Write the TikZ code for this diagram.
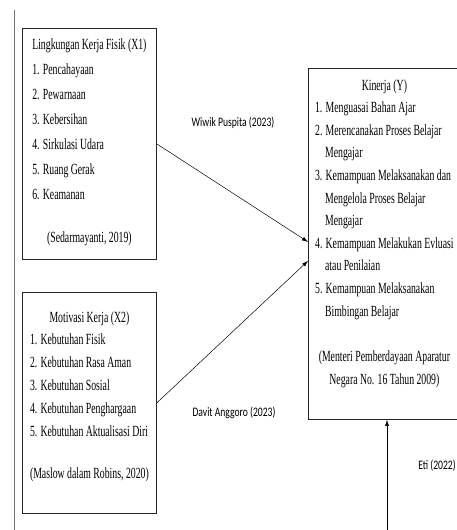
\documentclass[tikz,border=0pt]{standalone}
\usepackage{fontspec}
\setmainfont{Liberation Serif}
\newfontfamily\boxfont[FakeStretch=0.63]{Liberation Serif}
\newfontfamily\citefont[FakeStretch=0.74]{Carlito}
\usepackage{tikz}
\usetikzlibrary{positioning,arrows.meta}

\begin{document}
\begin{tikzpicture}[x=1pt, y=-1pt,
    every node/.style={inner sep=0pt},
    varbox/.style={draw=black!85, line width=0.8pt, anchor=north west},
    itemlist/.style={font=\boxfont\fontsize{15.5}{17}\selectfont, anchor=north},
    source/.style={font=\citefont\fontsize{13}{15}\selectfont},
    arrow/.style={-{Latex[length=6pt,width=4pt]}, line width=0.5pt},
]
\useasboundingbox (0,0) rectangle (457,530);
\clip (0,0) rectangle (457,530);

% left margin rule
\draw[black!55, line width=0.8pt] (14,10) -- (14,530);

% variable boxes
\node[varbox, minimum width=134pt, minimum height=231pt] (fisik) at (22,28) {};
\node[varbox, minimum width=134pt, minimum height=221pt] (motivasi) at (22,292) {};
\node[varbox, minimum width=156pt, minimum height=351pt] (kinerja) at (308,68) {};

\node[itemlist, below=4pt of fisik.north] (fisiklist) {\renewcommand{\arraystretch}{1.47}%
\begin{tabular}{@{}l@{}}
\multicolumn{1}{@{}c@{}}{Lingkungan Kerja Fisik (X1)}\\
1. Pencahayaan\\
2. Pewarnaan\\
3. Kebersihan\\
4. Sirkulasi Udara\\
5. Ruang Gerak\\
6. Keamanan\\[18pt]
\multicolumn{1}{@{}c@{}}{(Sedarmayanti, 2019)}
\end{tabular}};

\node[itemlist, below=14pt of motivasi.north] (motivasilist) {\renewcommand{\arraystretch}{1.34}%
\begin{tabular}{@{}l@{}}
\multicolumn{1}{@{}c@{}}{Motivasi Kerja (X2)}\\
1. Kebutuhan Fisik\\
2. Kebutuhan Rasa Aman\\
3. Kebutuhan Sosial\\
4. Kebutuhan Penghargaan\\
5. Kebutuhan Aktualisasi Diri\\[20pt]
\multicolumn{1}{@{}c@{}}{(Maslow dalam Robins, 2020)}
\end{tabular}};

\node[itemlist, below=6pt of kinerja.north, xshift=-2pt] (kinerjalist) {\renewcommand{\arraystretch}{1.33}%
\begin{tabular}{@{}l@{}}
\multicolumn{1}{@{}c@{}}{Kinerja (Y)}\\
1. Menguasai Bahan Ajar\\
2. Merencanakan Proses Belajar\\
\hspace*{10pt}Mengajar\\
3. Kemampuan Melaksanakan dan\\
\hspace*{10pt}Mengelola Proses Belajar\\
\hspace*{10pt}Mengajar\\
4. Kemampuan Melakukan Evluasi\\
\hspace*{10pt}atau Penilaian\\
5. Kemampuan Melaksanakan\\
\hspace*{10pt}Bimbingan Belajar\\[23pt]
\multicolumn{1}{@{}c@{}}{(Menteri Pemberdayaan Aparatur}\\
\multicolumn{1}{@{}c@{}}{Negara No. 16 Tahun 2009)}
\end{tabular}};

% sources
\node[source] (wiwik) at (233,123) {Wiwik Puspita (2023)};
\node[source] (davit) at (234,413) {Davit Anggoro (2023)};
\node[source] (eti) at (437,466) {Eti (2022)};

\coordinate (etistart) at (387,530);

\draw[arrow] (fisik.east) -- ([yshift=2pt]kinerja.west);
\draw[arrow] (motivasi.east) -- ([yshift=-17pt]kinerja.west);
\draw[arrow] (etistart) -- (etistart |- kinerja.south);
\end{tikzpicture}
\end{document}
